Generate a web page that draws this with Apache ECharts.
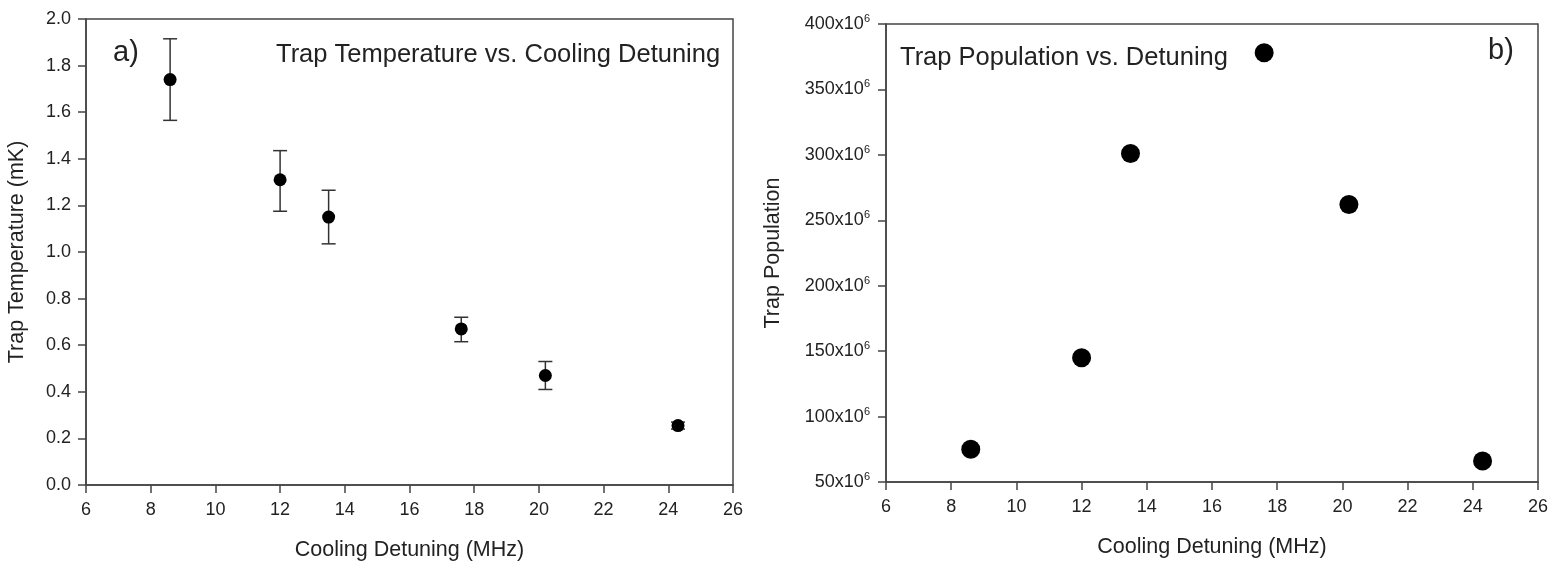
<!DOCTYPE html>
<html>
<head>
<meta charset="utf-8">
<script src="https://cdn.jsdelivr.net/npm/echarts@6/dist/echarts.min.js"></script>
<style>
  html, body { margin: 0; padding: 0; background: #fff; }
  #chart { width: 1551px; height: 567px; }
</style>
</head>
<body>
<div id="chart"></div>
<script>
// detuning (MHz), shared by both panels
const detuning = [8.6, 12.0, 13.5, 17.6, 20.2, 24.3]
// panel a) trap temperature (mK) with error bar ends
const temperature = [1.74, 1.31, 1.15, 0.67, 0.47, 0.255]
const tempLow = [1.565, 1.175, 1.035, 0.615, 0.41, 0.24]
const tempHigh = [1.915, 1.435, 1.265, 0.72, 0.53, 0.27]
// panel b) trap population
const population = [75e6, 145e6, 301e6, 378e6, 262e6, 66e6]

const FONT = '"Liberation Sans", Arial, sans-serif'
const AXIS_COLOR = '#444'
const TEXT_COLOR = '#222'

const myChart = echarts.init(document.getElementById('chart'))

const xAxisBase = {
  type: 'value',
  min: 6,
  max: 26,
  interval: 2,
  name: 'Cooling Detuning (MHz)',
  nameLocation: 'middle',
  nameGap: 54,
  nameTextStyle: { fontFamily: FONT, fontSize: 21.5, color: TEXT_COLOR },
  axisLine: { show: true, lineStyle: { color: AXIS_COLOR, width: 1.5 } },
  axisTick: { show: true, length: 8, lineStyle: { color: AXIS_COLOR, width: 1.5 } },
  axisLabel: { fontFamily: FONT, fontSize: 18, color: TEXT_COLOR, margin: 16 },
  splitLine: { show: false }
}

const tempPoints = detuning.map((x, i) => [x, temperature[i]])
const errPoints = detuning.map((x, i) => [x, tempLow[i], tempHigh[i]])
const popPoints = detuning.map((x, i) => [x, population[i]])

const option = {
  backgroundColor: '#fff',
  animation: false,
  title: [
    {
      text: 'a)', left: 108, top: 33,
      textStyle: { fontFamily: FONT, fontSize: 29, fontWeight: 'normal', color: TEXT_COLOR }
    },
    {
      text: 'Trap Temperature vs. Cooling Detuning', left: 271, top: 37,
      textStyle: { fontFamily: FONT, fontSize: 25.5, fontWeight: 'normal', color: TEXT_COLOR }
    },
    {
      text: 'Trap Population vs. Detuning', left: 895, top: 40,
      textStyle: { fontFamily: FONT, fontSize: 25.5, fontWeight: 'normal', color: TEXT_COLOR }
    },
    {
      text: 'b)', left: 1483, top: 31,
      textStyle: { fontFamily: FONT, fontSize: 29, fontWeight: 'normal', color: TEXT_COLOR }
    }
  ],
  grid: [
    { left: 86, right: 818, top: 19, bottom: 82, show: true, borderColor: AXIS_COLOR, borderWidth: 1.5 },
    { left: 886, right: 13, top: 24, bottom: 85, show: true, borderColor: AXIS_COLOR, borderWidth: 1.5 }
  ],
  xAxis: [
    { ...xAxisBase, gridIndex: 0 },
    { ...xAxisBase, gridIndex: 1 }
  ],
  yAxis: [
    {
      gridIndex: 0,
      type: 'value',
      min: 0,
      max: 2,
      interval: 0.2,
      name: 'Trap Temperature (mK)',
      nameLocation: 'middle',
      nameGap: 58,
      nameTextStyle: { fontFamily: FONT, fontSize: 21.5, color: TEXT_COLOR },
      axisLine: { show: true, lineStyle: { color: AXIS_COLOR, width: 1.5 } },
      axisTick: { show: true, length: 8, lineStyle: { color: AXIS_COLOR, width: 1.5 } },
      axisLabel: {
        fontFamily: FONT, fontSize: 18, color: TEXT_COLOR, margin: 15,
        formatter: v => v.toFixed(1)
      },
      splitLine: { show: false }
    },
    {
      gridIndex: 1,
      type: 'value',
      min: 50e6,
      max: 400e6,
      interval: 50e6,
      name: 'Trap Population',
      nameLocation: 'middle',
      nameGap: 102,
      nameTextStyle: { fontFamily: FONT, fontSize: 21.5, color: TEXT_COLOR },
      axisLine: { show: true, lineStyle: { color: AXIS_COLOR, width: 1.5 } },
      axisTick: { show: true, length: 8, lineStyle: { color: AXIS_COLOR, width: 1.5 } },
      axisLabel: {
        margin: 16,
        formatter: v => '{m|' + Math.round(v / 1e6) + 'x10}{s|6}',
        rich: {
          m: { fontFamily: FONT, fontSize: 18, color: TEXT_COLOR },
          s: { fontFamily: FONT, fontSize: 11, color: TEXT_COLOR, verticalAlign: 'top', padding: [0, 0, 10, 0] }
        }
      },
      splitLine: { show: false }
    }
  ],
  series: [
    {
      // error bars for panel a)
      type: 'custom',
      xAxisIndex: 0,
      yAxisIndex: 0,
      data: errPoints,
      z: 1,
      renderItem(params, api) {
        const x = api.value(0)
        const lo = api.coord([x, api.value(1)])
        const hi = api.coord([x, api.value(2)])
        const half = 7
        const style = { stroke: '#333', lineWidth: 1.5 }
        return {
          type: 'group',
          children: [
            { type: 'line', shape: { x1: lo[0], y1: lo[1], x2: hi[0], y2: hi[1] }, style },
            { type: 'line', shape: { x1: hi[0] - half, y1: hi[1], x2: hi[0] + half, y2: hi[1] }, style },
            { type: 'line', shape: { x1: lo[0] - half, y1: lo[1], x2: lo[0] + half, y2: lo[1] }, style }
          ]
        }
      }
    },
    {
      type: 'scatter',
      xAxisIndex: 0,
      yAxisIndex: 0,
      data: tempPoints,
      symbol: 'circle',
      symbolSize: 13,
      itemStyle: { color: '#000', opacity: 1 },
      z: 2
    },
    {
      type: 'scatter',
      xAxisIndex: 1,
      yAxisIndex: 1,
      data: popPoints,
      symbol: 'circle',
      symbolSize: 19,
      itemStyle: { color: '#000', opacity: 1 }
    }
  ]
}

myChart.setOption(option)
</script>
</body>
</html>
